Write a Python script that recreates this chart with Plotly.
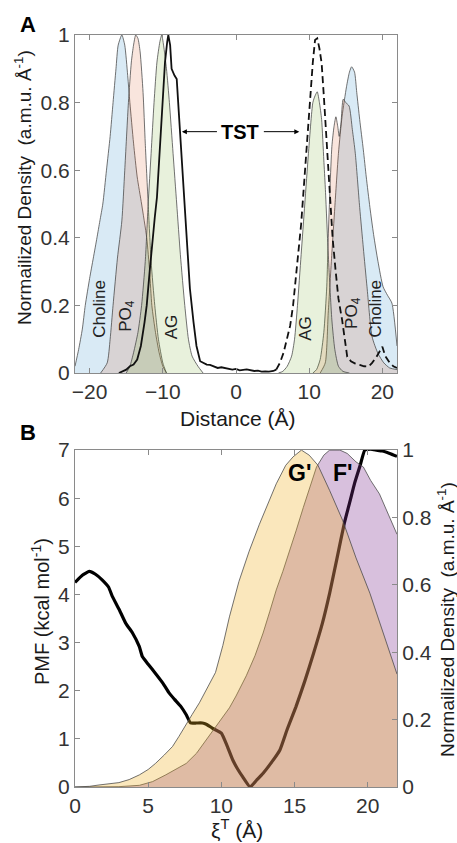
import plotly.graph_objects as go

# ---------------- Panel A data ----------------
choline_l_x = [-22, -21.5, -21, -20.6, -20, -19.5, -19, -18.6, -18.2, -17.7, -17.2, -16.8, -16.4, -16.1, -15.6, -15.2, -14.8, -14.5, -14, -13.5, -12.9, -12.2, -11.8, -11.5, -11, -10.5, -10, -9.5]
choline_l_y = [0.02, 0.07, 0.13, 0.2, 0.28, 0.34, 0.4, 0.45, 0.5, 0.6, 0.7, 0.8, 0.9, 0.97, 1.0, 0.97, 0.88, 0.8, 0.68, 0.58, 0.5, 0.4, 0.3, 0.2, 0.12, 0.06, 0.02, 0]

po4_l_x = [-18.5, -17.6, -17.2, -16.8, -16.2, -15.6, -15.2, -14.7, -14.3, -14.0, -13.7, -13.4, -13.1, -12.7, -12.4, -12.0, -11.6, -11.1, -10.6, -10, -9.5]
po4_l_y = [0, 0.03, 0.1, 0.2, 0.34, 0.45, 0.6, 0.8, 0.92, 0.97, 1.0, 0.99, 0.95, 0.83, 0.68, 0.5, 0.33, 0.2, 0.1, 0.03, 0]

ag_l_x = [-15, -14.5, -14, -13.4, -12.9, -12.4, -12.0, -11.6, -11.2, -10.8, -10.4, -10.15, -9.9, -9.5, -9.1, -8.6, -8.1, -7.6, -7.0, -6.5, -6, -5.2, -4.5]
ag_l_y = [0, 0.02, 0.06, 0.12, 0.2, 0.33, 0.5, 0.65, 0.8, 0.92, 0.98, 1.0, 0.97, 0.9, 0.8, 0.65, 0.5, 0.35, 0.2, 0.1, 0.05, 0.02, 0]

ag_r_x = [5.8, 6.4, 7.0, 7.6, 8.0, 8.4, 8.9, 9.4, 9.9, 10.5, 10.8, 11.1, 11.4, 11.7, 12.0, 12.2, 12.6, 13.1, 13.5, 14.0, 14.6, 15.5]
ag_r_y = [0, 0.005, 0.02, 0.05, 0.1, 0.2, 0.35, 0.5, 0.65, 0.8, 0.82, 0.832, 0.8, 0.75, 0.63, 0.55, 0.355, 0.157, 0.07, 0.02, 0.005, 0]

po4_r_x = [10.5, 11.0, 11.5, 12.0, 12.4, 12.6, 12.85, 13.1, 13.4, 13.65, 13.9, 14.1, 14.35, 14.65, 15.0, 15.45, 15.9, 16.3, 16.9, 17.4, 17.9, 18.6, 19.4, 20.2, 21, 22]
po4_r_y = [0, 0.01, 0.04, 0.12, 0.255, 0.4, 0.55, 0.67, 0.73, 0.758, 0.73, 0.70, 0.74, 0.81, 0.8, 0.79, 0.72, 0.65, 0.49, 0.37, 0.255, 0.107, 0.058, 0.03, 0.015, 0.01]

choline_r_x = [11.5, 12.2, 12.6, 13.1, 13.5, 14.0, 14.5, 15.1, 15.5, 15.8, 16.2, 16.5, 16.9, 17.4, 17.8, 18.3, 18.8, 19.4, 20.1, 20.7, 21.3, 22]
choline_r_y = [0, 0.03, 0.177, 0.355, 0.49, 0.65, 0.76, 0.847, 0.89, 0.906, 0.89, 0.83, 0.75, 0.66, 0.58, 0.49, 0.41, 0.33, 0.255, 0.23, 0.207, 0.08]

tst_solid_x = [-16, -15, -14.5, -14, -13.5, -13, -12.5, -12.2, -11.8, -11.5, -11.1, -10.8, -10.4, -10.0, -9.7, -9.4, -9.25, -9.0, -8.8, -8.4, -8.1, -7.9, -7.6, -7.4, -7.0, -6.6, -6.3, -5.8, -5.4, -4.9, -4.5, -4, -3.55, -3, -2.5, -2, -1.27, -0.5, 0, 0.5, 1.46, 2, 2.5, 3, 3.5, 4, 4.5, 5.1, 5.5]
tst_solid_y = [0, 0.01, 0.02, 0.025, 0.04, 0.08, 0.15, 0.2, 0.3, 0.38, 0.46, 0.52, 0.66, 0.8, 0.92, 0.98, 1.0, 0.97, 0.9, 0.88, 0.87, 0.8, 0.7, 0.62, 0.47, 0.34, 0.25, 0.15, 0.08, 0.035, 0.03, 0.025, 0.024, 0.02, 0.015, 0.017, 0.014, 0.01, 0.012, 0.008, 0.011, 0.009, 0.006, 0.007, 0.004, 0.005, 0.004, 0.006, 0.01]

tst_dash_x = [5.5, 6.0, 6.5, 7.0, 7.4, 7.8, 8.2, 8.5, 8.9, 9.2, 9.6, 10.1, 10.5, 10.8, 11.1, 11.4, 11.7, 12.0, 12.2, 12.5, 12.9, 13.2, 13.6, 14.0, 14.5, 14.9, 15.2, 15.7, 16.3, 16.9, 17.5, 18.1, 18.6, 19.2, 19.6, 20.0, 20.4, 21.0, 21.5, 22]
tst_dash_y = [0.01, 0.03, 0.06, 0.1, 0.14, 0.2, 0.28, 0.35, 0.44, 0.53, 0.66, 0.8, 0.92, 0.985, 0.99, 0.96, 0.917, 0.82, 0.75, 0.63, 0.5, 0.4, 0.305, 0.22, 0.157, 0.1, 0.048, 0.035, 0.028, 0.024, 0.02, 0.019, 0.03, 0.048, 0.065, 0.078, 0.05, 0.03, 0.02, 0.015]

a_xticks = [-20, -10, 0, 10, 20]
a_yticks = [0, 0.2, 0.4, 0.6, 0.8, 1]
a_yticklabels = ["0", "0.2", "0.4", "0.6", "0.8", "1"]

# ---------------- Panel B data ----------------
pmf_x = [0, 0.5, 0.98, 1.4, 1.87, 2.3, 2.55, 3.0, 3.47, 3.93, 4.39, 4.6, 5.0, 5.5, 6.0, 6.44, 6.8, 7.24, 7.6, 7.9, 8.3, 8.7, 9.0, 9.4, 10.0, 10.4, 10.78, 11.1, 11.46, 11.97, 12.4, 12.84, 13.4, 14.0, 14.5, 15.1, 15.7, 16.3, 16.9, 17.4, 17.9, 18.4, 18.8, 19.1, 19.5, 19.8, 20.2, 20.6, 21.0, 21.5, 22]
pmf_y = [4.25, 4.4, 4.48, 4.42, 4.3, 4.15, 3.96, 3.7, 3.40, 3.20, 2.92, 2.71, 2.55, 2.36, 2.16, 1.95, 1.82, 1.67, 1.5, 1.33, 1.33, 1.33, 1.3, 1.22, 1.12, 0.85, 0.56, 0.38, 0.21, 0.0, 0.14, 0.28, 0.5, 0.77, 1.2, 1.67, 2.2, 2.78, 3.4, 4.03, 4.75, 5.48, 5.95, 6.31, 6.7, 7.0, 7.02, 7.0, 6.98, 6.93, 6.87]

gp_x = [0, 1.0, 1.64, 2.3, 3.0, 3.7, 4.4, 5.0, 5.5, 6.1, 6.66, 7.1, 7.5, 8.0, 8.5, 9.0, 9.6, 10.1, 10.55, 11.2, 11.9, 12.6, 13.3, 13.75, 14.4, 14.9, 15.47, 16.0, 16.6, 17.4, 18.3, 19.2, 20.15, 21.06, 22]
gp_y = [0, 0.002, 0.006, 0.009, 0.013, 0.022, 0.036, 0.052, 0.07, 0.095, 0.12, 0.15, 0.18, 0.215, 0.25, 0.29, 0.34, 0.42, 0.505, 0.61, 0.70, 0.78, 0.85, 0.9, 0.955, 0.98, 1.0, 0.985, 0.955, 0.88, 0.79, 0.68, 0.575, 0.457, 0.335]

fp_x = [0, 2.0, 3.0, 4.4, 5.3, 6.2, 6.9, 7.6, 8.3, 8.95, 9.6, 10.3, 10.55, 11.0, 11.7, 12.3, 12.85, 13.3, 13.75, 14.2, 14.67, 15.1, 15.6, 16.1, 16.5, 17.0, 17.4, 18.1, 18.6, 19.2, 19.7, 20.2, 20.8, 21.4, 22]
fp_y = [0, 0.0, 0.001, 0.005, 0.016, 0.036, 0.052, 0.07, 0.1, 0.14, 0.18, 0.22, 0.235, 0.27, 0.33, 0.39, 0.457, 0.52, 0.585, 0.64, 0.70, 0.76, 0.83, 0.9, 0.95, 0.985, 1.0, 1.0, 0.99, 0.965, 0.95, 0.91, 0.87, 0.81, 0.75]

b_xticks = [0, 5, 10, 15, 20]
b_yticks = [0, 1, 2, 3, 4, 5, 6, 7]
b_y2ticks = [0, 0.2, 0.4, 0.6, 0.8, 1]
b_y2ticklabels = ["0", "0.2", "0.4", "0.6", "0.8", "1"]

# ---------------- styles ----------------
FONT = "Liberation Sans, Arial, Helvetica, sans-serif"
AXC = "#8a8a8a"
TICKC = "#333333"
EDGE = "rgba(70,70,70,0.85)"
C_CHOL = "rgba(0,114,189,0.15)"
C_PO4 = "rgba(217,83,25,0.15)"
C_AG = "rgba(119,172,48,0.17)"
C_F = "rgba(126,47,142,0.30)"
C_G = "rgba(237,177,32,0.30)"

fig = go.Figure()

def area(x, y, fillc, xa, ya, smooth=True):
    line = dict(color=EDGE, width=0.9)
    if smooth:
        line.update(shape="spline", smoothing=0.6)
    fig.add_trace(go.Scatter(x=x, y=y, mode="lines", fill="tozeroy", fillcolor=fillc,
                             line=line, xaxis=xa, yaxis=ya,
                             hoverinfo="skip", showlegend=False))

area(choline_l_x, choline_l_y, C_CHOL, "x", "y")
area(choline_r_x, choline_r_y, C_CHOL, "x", "y")
area(po4_l_x, po4_l_y, C_PO4, "x", "y")
area(po4_r_x, po4_r_y, C_PO4, "x", "y")
area(ag_l_x, ag_l_y, C_AG, "x", "y")
area(ag_r_x, ag_r_y, C_AG, "x", "y")

fig.add_trace(go.Scatter(x=tst_solid_x, y=tst_solid_y, mode="lines",
                         line=dict(color="#111111", width=1.8), xaxis="x", yaxis="y", showlegend=False))
fig.add_trace(go.Scatter(x=tst_dash_x, y=tst_dash_y, mode="lines",
                         line=dict(color="#111111", width=1.8, dash="7px,4px"), xaxis="x", yaxis="y", showlegend=False))

# Panel B: PMF line below the semi-transparent densities
fig.add_trace(go.Scatter(x=pmf_x, y=pmf_y, mode="lines", line=dict(color="black", width=3.2, shape="spline", smoothing=0.4),
                         xaxis="x2", yaxis="y2", showlegend=False))
area(fp_x, fp_y, C_F, "x2", "y3", smooth=False)
area(gp_x, gp_y, C_G, "x2", "y3", smooth=False)

axis_common = dict(showline=True, linecolor=AXC, linewidth=1, ticks="inside", ticklen=5,
                   tickcolor=AXC, showgrid=False, zeroline=False,
                   tickfont=dict(family=FONT, size=21, color=TICKC))

fig.update_layout(
    width=457, height=843,
    margin=dict(l=75, r=60, t=35, b=56),
    paper_bgcolor="white", plot_bgcolor="white",
    font=dict(family=FONT, color="#1a1a1a"),
    showlegend=False,
    xaxis=dict(domain=[0, 1], anchor="y", range=[-22, 22], tickvals=a_xticks, mirror="ticks", **axis_common),
    yaxis=dict(domain=[0.5505, 1], anchor="x", range=[0, 1], tickvals=a_yticks, ticktext=a_yticklabels,
               mirror="ticks", **axis_common),
    xaxis2=dict(domain=[0, 1], anchor="y2", range=[0, 22], tickvals=b_xticks, mirror="ticks", **axis_common),
    yaxis2=dict(domain=[0, 0.448], anchor="x2", range=[0, 7], tickvals=b_yticks, **axis_common),
    yaxis3=dict(overlaying="y2", side="right", anchor="x2", range=[0, 1], tickvals=b_y2ticks,
                ticktext=b_y2ticklabels, **axis_common),
)

def px2paper_x(px):
    return (px - 75) / 322.0

def px2paper_y(py):
    return (787 - py) / 752.0

anns = []
def pann(text, px, py, size, angle=0, color="#1a1a1a"):
    anns.append(dict(text=text, x=px2paper_x(px), y=px2paper_y(py), xref="paper", yref="paper",
                     xanchor="center", yanchor="middle", textangle=angle, showarrow=False,
                     font=dict(size=size, color=color, family=FONT)))

# panel letters
pann("<b>A</b>", 28, 25, 22, color="black")
pann("<b>B</b>", 28, 432, 22, color="black")
# axis titles
pann("Normailized Density  (a.m.u. Å<sup>-1</sup>)", 23, 188, 19, angle=-90)
pann("Distance (Å)", 238, 418, 21)
pann("PMF (kcal mol<sup>-1</sup>)", 40, 612, 20, angle=-90)
pann("Normailized Density  (a.m.u. Å<sup>-1</sup>)", 446, 620, 19, angle=-90)
pann("ξ<sup>T</sup> (Å)", 237, 829, 21)

# rotated species labels panel A
lab_font = dict(size=17, color="#222222", family=FONT)
for txt, xx, yy in [("Choline", -18.6, 0.19), ("PO<sub>4</sub>", -15.0, 0.17), ("AG", -8.8, 0.137),
                    ("AG", 9.4, 0.133), ("PO<sub>4</sub>", 15.95, 0.177), ("Choline", 19.1, 0.19)]:
    anns.append(dict(text=txt, x=xx, y=yy, xref="x", yref="y", xanchor="center", yanchor="middle",
                     textangle=-90, showarrow=False, font=lab_font))

# TST label with arrows
anns.append(dict(text="<b>TST</b>", x=0.55, y=0.714, xref="x", yref="y", xanchor="center", yanchor="middle",
                 showarrow=False, font=dict(size=20, color="black", family=FONT)))
anns.append(dict(text="", x=-7.4, y=0.714, ax=-2.4, ay=0.714, xref="x", yref="y", axref="x", ayref="y",
                 showarrow=True, arrowhead=2, arrowsize=1, arrowwidth=1, arrowcolor="black", standoff=0))
anns.append(dict(text="", x=8.65, y=0.714, ax=3.6, ay=0.714, xref="x", yref="y", axref="x", ayref="y",
                 showarrow=True, arrowhead=2, arrowsize=1, arrowwidth=1, arrowcolor="black", standoff=0))

# G' and F' labels panel B
anns.append(dict(text="<b>G'</b>", x=15.35, y=0.932, xref="x2", yref="y3", xanchor="center", yanchor="middle",
                 showarrow=False, font=dict(size=23, color="black", family=FONT)))
anns.append(dict(text="<b>F'</b>", x=18.3, y=0.932, xref="x2", yref="y3", xanchor="center", yanchor="middle",
                 showarrow=False, font=dict(size=23, color="black", family=FONT)))

fig.update_layout(annotations=anns)
# remove the default 8 px page margin so the 457x843 figure fills the window exactly
fig.write_html("out.html", config={"displayModeBar": False},
               post_script="document.body.style.margin='0px';document.body.style.overflow='hidden';")
